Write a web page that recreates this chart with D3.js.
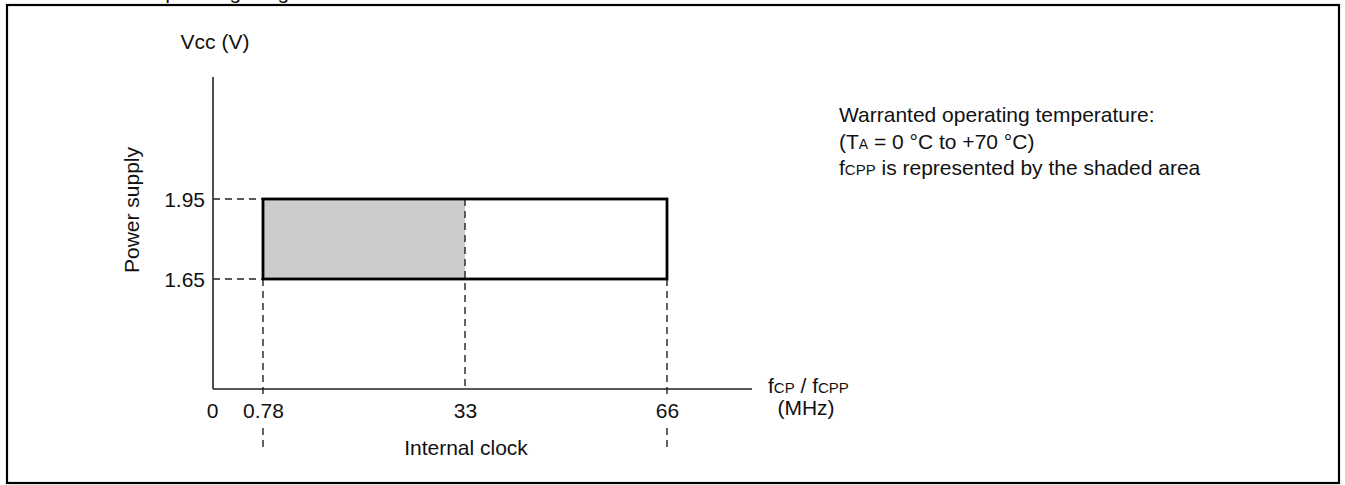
<!DOCTYPE html>
<html><head><meta charset="utf-8">
<script src="https://cdn.jsdelivr.net/npm/d3@7"></script>
<style>
html,body{margin:0;padding:0;background:#fff;}
svg text{font-family:"Liberation Sans",Arial,Helvetica,sans-serif;fill:#111;}
</style></head>
<body><svg id="c" width="1345" height="485"></svg>
<script>
// ---- data ----
const xTickValues = [0, 0.78, 33, 66];
const xTickLabels = ["0", "0.78", "33", "66"];
const yTickValues = [1.95, 1.65];
const yTickLabels = ["1.95", "1.65"];
const fcpRange = [0.78, 66];      // full operating frequency range (MHz)
const fcppRange = [0.78, 33];     // shaded fCPP range (MHz)
const vccRange = [1.65, 1.95];    // power supply range (V)
const legendLines = ["Warranted operating temperature:", "(TA = 0 °C to +70 °C)", "fCPP is represented by the shaded area"];

// ---- layout ----
const svg = d3.select("#c");
const FS = 21;
const axisX0 = 213, axisY0 = 389, axisTop = 77, axisRight = 752;

// schematic (piecewise) scales
const x = d3.scaleLinear().domain([0, 0.78, 33, 66]).range([213, 263, 465, 667]);
const y = d3.scaleLinear().domain(vccRange).range([279, 199]);

// clipped heading at the very top
svg.append("text").attr("x", 149).attr("y", -1).attr("font-size", FS).text("Operating range");

// frame
svg.append("rect").attr("x", 7).attr("y", 5).attr("width", 1332).attr("height", 478)
  .attr("fill", "none").attr("stroke", "#000").attr("stroke-width", 2.2);

// shaded area
svg.append("rect")
  .attr("x", x(fcppRange[0])).attr("y", y(vccRange[1]))
  .attr("width", x(fcppRange[1]) - x(fcppRange[0]))
  .attr("height", y(vccRange[0]) - y(vccRange[1]))
  .attr("fill", "#cccccc");

const dash = "7,5";
const dl = (x1, y1, x2, y2) => svg.append("line").attr("x1", x1).attr("y1", y1).attr("x2", x2).attr("y2", y2)
  .attr("stroke", "#222").attr("stroke-width", 1.4).attr("stroke-dasharray", dash);

// horizontal guides
yTickValues.forEach(v => dl(axisX0, y(v), x(fcpRange[0]), y(v)));
// vertical guides
[fcpRange[0], fcpRange[1]].forEach(v => {
  dl(x(v), y(vccRange[0]), x(v), 397);
  dl(x(v), 428, x(v), 448);
});
dl(x(fcppRange[1]), y(vccRange[1]), x(fcppRange[1]), axisY0);

// operating box
svg.append("rect")
  .attr("x", x(fcpRange[0])).attr("y", y(vccRange[1]))
  .attr("width", x(fcpRange[1]) - x(fcpRange[0]))
  .attr("height", y(vccRange[0]) - y(vccRange[1]))
  .attr("fill", "none").attr("stroke", "#000").attr("stroke-width", 2.8);

// axes lines
svg.append("line").attr("x1", axisX0).attr("y1", axisTop).attr("x2", axisX0).attr("y2", axisY0)
  .attr("stroke", "#222").attr("stroke-width", 1.6);
svg.append("line").attr("x1", axisX0).attr("y1", axisY0).attr("x2", axisRight).attr("y2", axisY0)
  .attr("stroke", "#222").attr("stroke-width", 1.6);

// y tick labels via axis
const yAxis = d3.axisLeft(y).tickValues(yTickValues).tickSize(0).tickPadding(8)
  .tickFormat((d, i) => yTickLabels[i]);
const gy = svg.append("g").attr("transform", `translate(${axisX0},0)`).call(yAxis);
gy.select(".domain").remove();
gy.selectAll("text").attr("font-size", FS).attr("font-family", null).attr("fill", "#111").attr("dy", "0.34em");

// x tick labels via axis
const xAxis = d3.axisBottom(x).tickValues(xTickValues).tickSize(0).tickPadding(0)
  .tickFormat((d, i) => xTickLabels[i]);
const gx = svg.append("g").attr("transform", `translate(0,${axisY0})`).call(xAxis);
gx.select(".domain").remove();
gx.selectAll("text").attr("font-size", FS).attr("font-family", null).attr("fill", "#111")
  .attr("dy", null).attr("y", 29)
  .attr("dx", d => d === 0 ? -1 : 0);

// axis titles
svg.append("text").attr("x", 215).attr("y", 49).attr("text-anchor", "middle").attr("font-size", FS).text("Vcc (V)");

svg.append("text").attr("transform", "translate(139,210) rotate(-90)")
  .attr("text-anchor", "middle").attr("font-size", FS).text("Power supply");

svg.append("text").attr("x", 466).attr("y", 455).attr("text-anchor", "middle").attr("font-size", FS).text("Internal clock");

const fcp = svg.append("text").attr("x", 768).attr("y", 393).attr("font-size", FS);
fcp.append("tspan").text("f");
fcp.append("tspan").attr("font-size", 15).text("CP");
fcp.append("tspan").text(" / f");
fcp.append("tspan").attr("font-size", 15).text("CPP");
svg.append("text").attr("x", 806).attr("y", 415).attr("text-anchor", "middle").attr("font-size", FS).text("(MHz)");

// legend notes
const lx = 839, ly = 122, lh = 26.5;
svg.append("text").attr("x", lx).attr("y", ly).attr("font-size", FS).text(legendLines[0]);
const l2 = svg.append("text").attr("x", lx).attr("y", ly + lh).attr("font-size", FS);
l2.append("tspan").text("(T");
l2.append("tspan").attr("font-size", 14).text("A");
l2.append("tspan").text(" = 0 °C to +70 °C)");
const l3 = svg.append("text").attr("x", lx).attr("y", ly + 2 * lh).attr("font-size", FS);
l3.append("tspan").text("f");
l3.append("tspan").attr("font-size", 15).text("CPP");
l3.append("tspan").text(" is represented by the shaded area");
</script></body></html>
